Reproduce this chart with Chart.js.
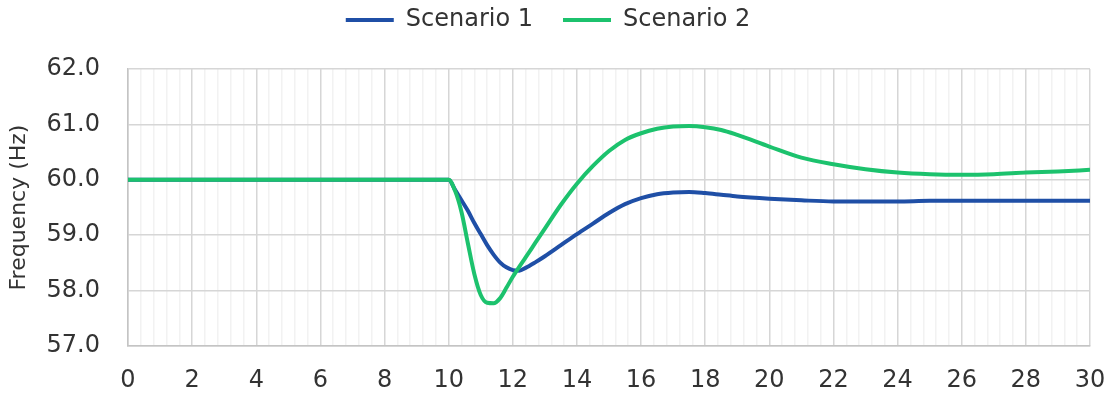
<!DOCTYPE html>
<html lang="en">
  <head>
    <meta charset="UTF-8" />
    <title>Frequency</title>
    <script src="https://cdn.jsdelivr.net/npm/chart.js@4/dist/chart.umd.min.js"></script>
    <style>
      html, body {
        margin: 0;
        padding: 0;
        background: #ffffff;
      }
      .chart-box {
        width: 1118px;
        height: 396px;
      }
    </style>
  </head>
  <body>
    <div class="chart-box">
      <canvas id="freqChart"></canvas>
    </div>

    <script>
      // time in seconds
      const timeS = [0, 10, 10.2, 10.4, 10.6, 10.8, 11, 11.2, 11.4, 11.6, 11.8, 12, 12.2, 12.4, 12.7, 13, 13.5, 14, 14.5, 15, 15.5, 16, 16.5, 17, 17.5, 18, 18.5, 19, 20, 21, 22, 23, 24, 25, 26, 27, 28, 29, 30];

      const scenario1 = [60.0, 60.0, 59.82, 59.63, 59.44, 59.22, 59.02, 58.82, 58.65, 58.51, 58.42, 58.37, 58.36, 58.41, 58.51, 58.62, 58.82, 59.02, 59.21, 59.4, 59.56, 59.67, 59.74, 59.77, 59.78, 59.76, 59.73, 59.7, 59.66, 59.63, 59.61, 59.61, 59.61, 59.62, 59.62, 59.62, 59.62, 59.62, 59.62];

      const scenario2 = [60.0, 60.0, 59.8, 59.42, 58.85, 58.3, 57.92, 57.78, 57.77, 57.86, 58.05, 58.25, 58.43, 58.6, 58.86, 59.12, 59.55, 59.93, 60.25, 60.52, 60.72, 60.84, 60.92, 60.96, 60.97, 60.95, 60.9, 60.81, 60.6, 60.4, 60.28, 60.19, 60.13, 60.1, 60.09, 60.1, 60.13, 60.15, 60.18];

      const seriesNames = ["Scenario 1", "Scenario 2"];
      const xTicks = [0, 2, 4, 6, 8, 10, 12, 14, 16, 18, 20, 22, 24, 26, 28, 30];
      const yTicks = [57, 58, 59, 60, 61, 62];

      const toPoints = (vals) => vals.map((v, i) => ({ x: timeS[i], y: v }));

      const fontFamily = "'DejaVu Sans', sans-serif";
      const isMajor = (list, v) => list.some((m) => Math.abs(m - v) < 1e-6);

      // push the plot down a bit below the legend
      const legendGap = {
        id: "legendGap",
        beforeInit(chart) {
          const fit = chart.legend.fit;
          chart.legend.fit = function () {
            fit.bind(chart.legend)();
            this.height += 27;
          };
        },
      };

      new Chart(document.getElementById("freqChart"), {
        type: "line",
        data: {
          datasets: [
            {
              label: seriesNames[0],
              data: toPoints(scenario1),
              borderColor: "#1f4fa6",
              backgroundColor: "#1f4fa6",
              borderWidth: 4,
              pointRadius: 0,
              cubicInterpolationMode: "monotone",
              order: 1,
            },
            {
              label: seriesNames[1],
              data: toPoints(scenario2),
              borderColor: "#1cc26d",
              backgroundColor: "#1cc26d",
              borderWidth: 4,
              pointRadius: 0,
              cubicInterpolationMode: "monotone",
              order: 0,
            },
          ],
        },
        options: {
          responsive: true,
          maintainAspectRatio: false,
          animation: false,
          layout: {
            padding: { left: 6, right: 28, top: -22, bottom: 0 },
          },
          plugins: {
            tooltip: { enabled: false },
            legend: {
              position: "top",
              labels: {
                usePointStyle: true,
                pointStyle: "line",
                pointStyleWidth: 48,
                padding: 30,
                color: "#333333",
                font: { family: fontFamily, size: 24 },
                sort: (a, b) => a.datasetIndex - b.datasetIndex,
              },
            },
          },
          scales: {
            x: {
              type: "linear",
              min: 0,
              max: 30,
              // minor lines every 0.4 s, labels only on the even seconds
              afterBuildTicks(axis) {
                const t = [];
                for (let i = 0; i <= 75; i++) t.push({ value: Math.round(i * 0.4 * 10) / 10 });
                axis.ticks = t;
              },
              afterFit(axis) {
                axis.height = 50;
                axis.paddingRight = 0;
              },
              ticks: {
                autoSkip: false,
                maxRotation: 0,
                padding: 20,
                color: "#333333",
                font: { family: fontFamily, size: 24 },
                callback: (v) => (isMajor(xTicks, v) ? String(Math.round(v)) : ""),
              },
              grid: {
                drawTicks: false,
                color: (ctx) => (ctx.tick && isMajor(xTicks, ctx.tick.value) ? "#d6d6d6" : "#f2f2f2"),
                lineWidth: 1.5,
              },
              border: { color: "#c4c4c4", width: 1.5 },
            },
            y: {
              min: 57,
              max: 62,
              afterBuildTicks(axis) {
                const t = [];
                for (let v = 57; v <= 62; v += 0.5) t.push({ value: v });
                axis.ticks = t;
              },
              afterFit(axis) {
                axis.width = 122;
              },
              ticks: {
                padding: 28,
                color: "#333333",
                font: { family: fontFamily, size: 24 },
                callback: (v) => (isMajor(yTicks, v) ? v.toFixed(1) : ""),
              },
              grid: {
                drawTicks: false,
                color: (ctx) => (ctx.tick && isMajor(yTicks, ctx.tick.value) ? "#d6d6d6" : "#f2f2f2"),
                lineWidth: 1.5,
              },
              border: { color: "#c4c4c4", width: 1.5 },
              title: {
                display: true,
                text: "Frequency (Hz)",
                color: "#333333",
                padding: { top: 0, bottom: 0 },
                font: { family: fontFamily, size: 22 },
              },
            },
          },
        },
        plugins: [legendGap],
      });
    </script>
  </body>
</html>
